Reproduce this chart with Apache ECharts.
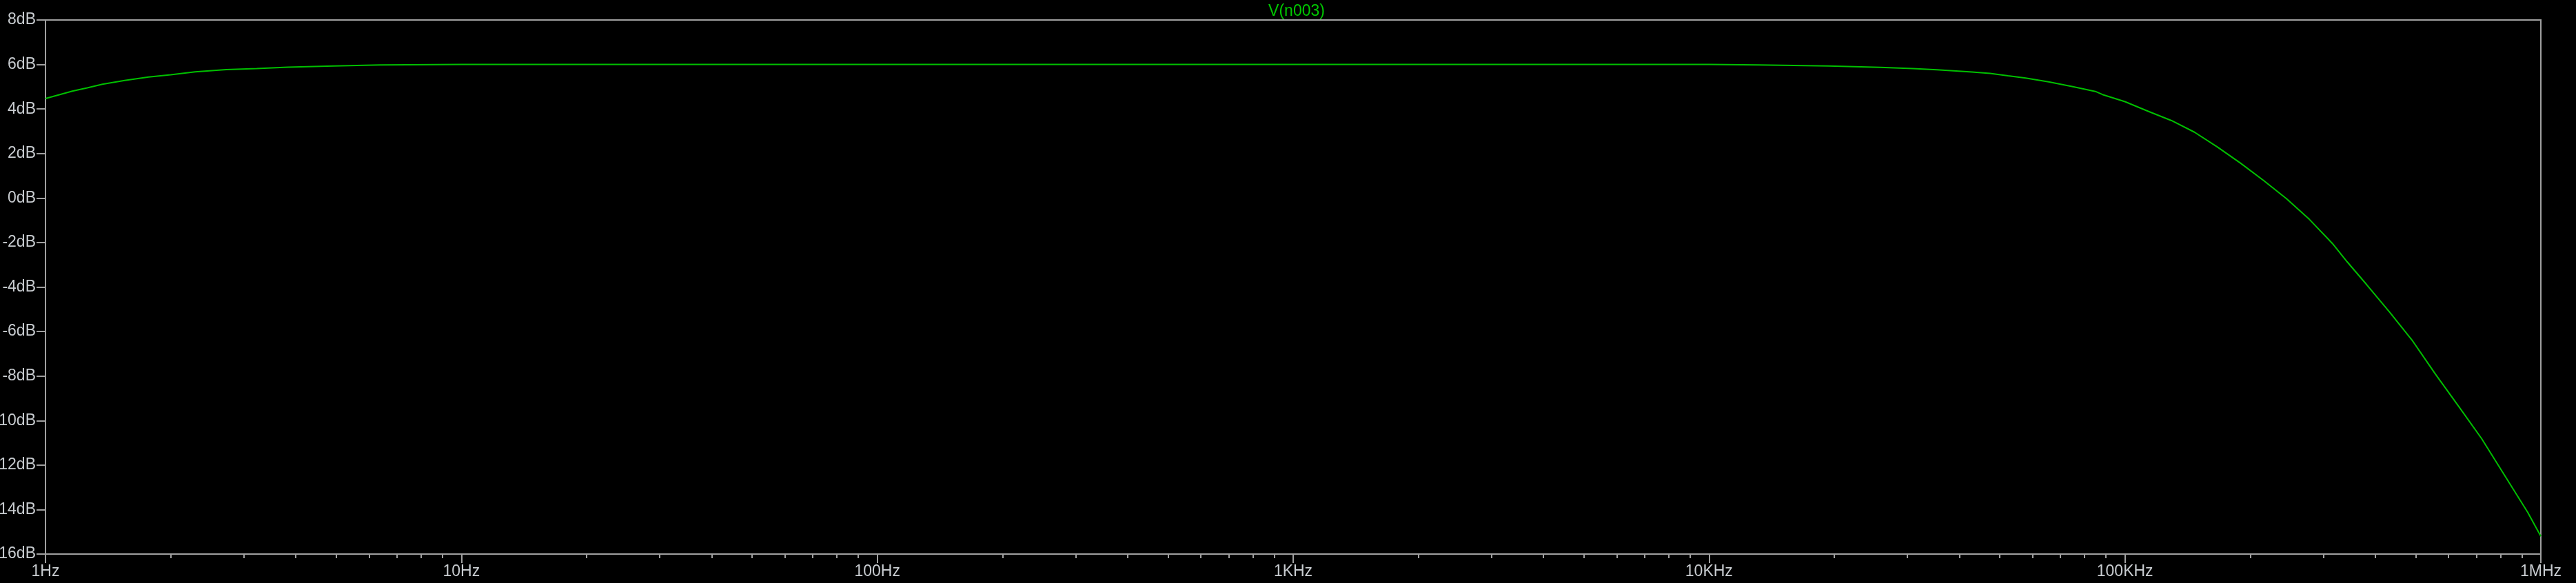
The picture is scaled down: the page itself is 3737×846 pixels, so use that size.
<!DOCTYPE html>
<html>
<head>
<meta charset="utf-8">
<script src="https://cdn.jsdelivr.net/npm/echarts@6/dist/echarts.min.js"></script>
<style>
  html, body { margin: 0; padding: 0; background: #000; }
  #chart { width: 3737px; height: 846px; }
</style>
</head>
<body>
<div id="chart"></div>
<script>
// ---- data ----
var seriesName = 'V(n003)';
var freqHz = [1, 1.16, 1.26, 1.37, 1.55, 1.77, 2.0, 2.29, 2.72, 3.22, 3.82, 4.93, 6.37,
  10, 100, 1000, 10000, 13200, 19400, 25800, 30900, 35300, 39300, 42900, 47400,
  52400, 57700, 65500, 74600, 84900, 88300, 100000, 114000, 129400, 146900, 166900,
  189500, 215300, 244500, 277600, 315300, 342300, 381500, 433500, 492000, 558600,
  634800, 721000, 818600, 929500, 1000000];
var gainDb = [4.47, 4.80, 4.95, 5.11, 5.28, 5.44, 5.54, 5.67, 5.77, 5.82, 5.88, 5.93, 5.98,
  6.0, 6.0, 6.0, 6.0, 5.98, 5.93, 5.87, 5.82, 5.76, 5.71, 5.66, 5.60,
  5.49, 5.39, 5.22, 5.01, 4.79, 4.65, 4.33, 3.89, 3.48, 2.96, 2.29,
  1.57, 0.79, -0.03, -0.96, -2.04, -2.87, -3.90, -5.14, -6.43, -7.93,
  -9.37, -10.82, -12.47, -14.12, -15.2];
var xTickLabels = ['1Hz', '10Hz', '100Hz', '1KHz', '10KHz', '100KHz', '1MHz'];
var yMin = -16, yMax = 8, yStep = 2;

// minor tick positions (2..9 within each decade)
var minorTicks = [];
for (var d = 0; d < 6; d++) {
  for (var m = 2; m <= 9; m++) minorTicks.push(m * Math.pow(10, d));
}

var axisColor = '#a0a0a0';
var textColor = '#c8ccd0';
var fontFam = '"Liberation Sans", Arial, sans-serif';

var chart = echarts.init(document.getElementById('chart'));
chart.setOption({
  backgroundColor: '#000000',
  animation: false,
  title: {
    text: seriesName,
    left: 1876,
    textAlign: 'center',
    top: 0,
    textStyle: { color: '#00c800', fontSize: 23, fontWeight: 'normal', fontFamily: fontFam }
  },
  grid: {
    left: 66, right: 51, top: 29, bottom: 42,
    outerBoundsMode: 'none', containLabel: false,
    show: true, borderColor: axisColor, borderWidth: 2, backgroundColor: '#000000'
  },
  xAxis: [{
    type: 'log', logBase: 10, min: 1, max: 1000000, position: 'bottom',
    axisLine: { show: true, onZero: false, lineStyle: { color: axisColor, width: 2 } },
    axisTick: { show: true, length: 13, lineStyle: { color: axisColor, width: 2 } },
    splitLine: { show: false },
    minorTick: { show: false },
    axisLabel: {
      show: true, margin: 14, color: textColor, fontSize: 23, fontFamily: fontFam,
      showMinLabel: true, showMaxLabel: true,
      formatter: function (v) {
        var i = Math.round(Math.log10(v));
        return xTickLabels[i] !== undefined ? xTickLabels[i] : '';
      }
    }
  }, {
    type: 'log', logBase: 10, min: 1, max: 1000000, position: 'bottom',
    axisLine: { show: false, onZero: false },
    axisTick: { show: true, length: 6, customValues: minorTicks, lineStyle: { color: axisColor, width: 2 } },
    axisLabel: { show: false },
    splitLine: { show: false }
  }],
  yAxis: {
    type: 'value', min: yMin, max: yMax, interval: yStep,
    axisLine: { show: true, onZero: false, lineStyle: { color: axisColor, width: 2 } },
    axisTick: { show: true, length: 13, lineStyle: { color: axisColor, width: 2 } },
    splitLine: { show: false },
    axisLabel: {
      margin: 14, color: textColor, fontSize: 23, fontFamily: fontFam,
      formatter: function (v) { return v + 'dB'; }
    }
  },
  series: [{
    name: seriesName,
    type: 'line',
    xAxisIndex: 0,
    data: freqHz.map(function (f, i) { return [f, gainDb[i]]; }),
    showSymbol: false,
    smooth: false,
    lineStyle: { color: '#00c000', width: 2 }
  }]
});
</script>
</body>
</html>
